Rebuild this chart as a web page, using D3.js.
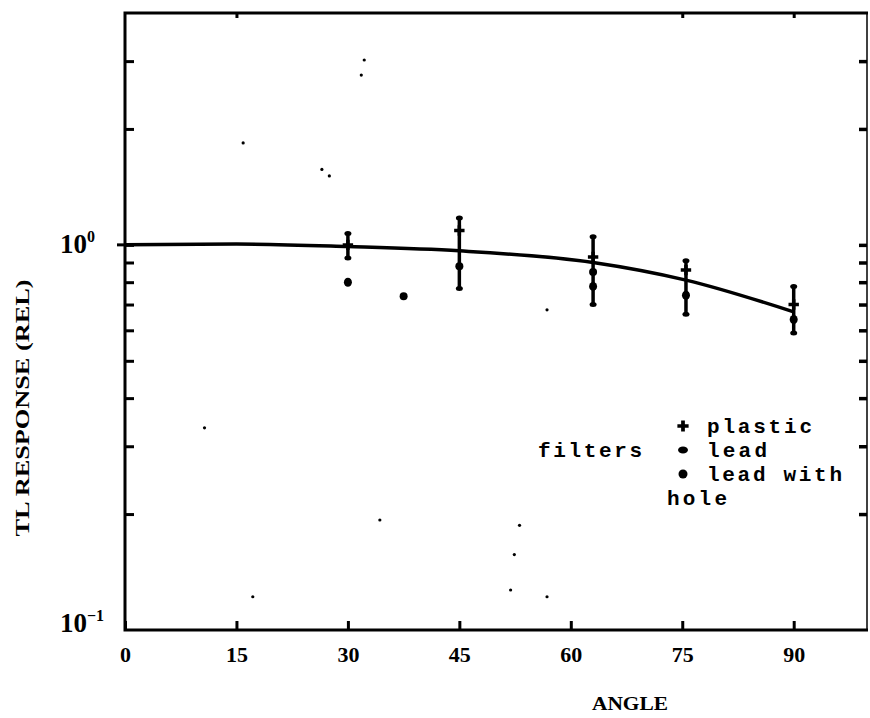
<!DOCTYPE html>
<html>
<head>
<meta charset="utf-8">
<script src="https://cdn.jsdelivr.net/npm/d3@7"></script>
<style>
  body { margin: 0; background: #fff; }
  svg { display: block; }
  .tick text { font-family: "Liberation Serif", serif; font-weight: bold; font-size: 22px; fill: #000; }
  .lbl { font-family: "Liberation Serif", serif; font-weight: bold; fill: #000; }
  .leg { font-family: "Liberation Mono", monospace; font-weight: bold; font-size: 21px; fill: #000; }
</style>
</head>
<body>
<div id="chart"></div>
<script>
// angle ticks and y ticks
var angleTicks = [0, 15, 30, 45, 60, 75, 90];
var topTicks = [15, 75, 90];
var respTicks = [0.2, 0.3, 0.4, 0.5, 0.6, 0.7, 0.8, 0.9, 1, 2, 3];

// fitted curve
var curveAngles = [0, 15, 30, 45, 63, 75.5, 90];
var curveValues = [1.0, 1.005, 0.99, 0.965, 0.9, 0.81, 0.67];

// error bars
var barAngles = [30, 45, 63, 75.5, 90];
var barHigh = [1.07, 1.175, 1.05, 0.91, 0.78];
var barLow = [0.925, 0.77, 0.70, 0.66, 0.59];

// filter points
var plasticAngles = [30, 45, 63, 75.5, 90];
var plasticValues = [1.0, 1.09, 0.93, 0.86, 0.70];
var leadAngles = [30, 63, 75.5, 90];
var leadValues = [0.80, 0.78, 0.74, 0.64];
var holeAngles = [37.5, 45, 63];
var holeValues = [0.735, 0.88, 0.85];

// specks from the scan
var speckAngles = [32.2, 31.8, 15.9, 26.5, 27.5, 56.8, 53.1, 52.4, 51.9, 56.8, 17.2, 34.3, 10.7];
var speckValues = [3.02, 2.76, 1.84, 1.57, 1.51, 0.678, 0.187, 0.157, 0.127, 0.122, 0.122, 0.193, 0.335];

var legendNames = ["plastic", "lead", "lead with", "hole"];

var W = 870, H = 718;
var margin = {top: 13, right: 2, bottom: 88, left: 125};

var x = d3.scaleLinear()
    .domain([0, 100])
    .range([margin.left, W - margin.right]);

var y = d3.scaleLog()
    .domain([0.1, 4])
    .range([H - margin.bottom, margin.top]);

var svg = d3.select("#chart").append("svg")
    .attr("width", W)
    .attr("height", H);

// frame
svg.append("path")
    .attr("d", "M" + x(100) + "," + y(4) + "H" + x(0) + "V" + y(0.1) + "H" + x(100))
    .attr("fill", "none")
    .attr("stroke", "#000")
    .attr("stroke-width", 3);
svg.append("line")
    .attr("x1", x(100) - 1).attr("x2", x(100) - 1)
    .attr("y1", y(4)).attr("y2", y(0.1))
    .attr("stroke", "#000")
    .attr("stroke-width", 1.5);

// bottom axis
var xAxis = svg.append("g")
    .attr("transform", "translate(0," + y(0.1) + ")")
    .call(d3.axisBottom(x).tickValues(angleTicks).tickSize(-9).tickPadding(16).tickFormat(d3.format("d")));
xAxis.select(".domain").remove();
xAxis.selectAll(".tick line").attr("stroke-width", 3);

// top ticks
var xTop = svg.append("g")
    .attr("transform", "translate(0," + y(4) + ")")
    .call(d3.axisTop(x).tickValues(topTicks).tickSize(-5).tickFormat(""));
xTop.select(".domain").remove();
xTop.selectAll(".tick line").attr("stroke-width", 3);

// left axis
var yAxis = svg.append("g")
    .attr("transform", "translate(" + x(0) + ",0)")
    .call(d3.axisLeft(y).tickValues(respTicks).tickSize(-9).tickFormat(""));
yAxis.select(".domain").remove();
yAxis.selectAll(".tick line").attr("stroke-width", 3);

// right axis
var yRight = svg.append("g")
    .attr("transform", "translate(" + (x(100) - 1) + ",0)")
    .call(d3.axisRight(y).tickValues(respTicks).tickSize(-8).tickFormat(""));
yRight.select(".domain").remove();
yRight.selectAll(".tick line").attr("stroke-width", 3.5);

// outward stub at 10^0
svg.append("line")
    .attr("x1", x(0) - 8).attr("x2", x(0))
    .attr("y1", y(1)).attr("y2", y(1))
    .attr("stroke", "#000").attr("stroke-width", 3);

// decade labels
var dec = [{v: 1, e: "0", dy: 8, x: 60}, {v: 0.1, e: "\u22121", dy: 2, x: 60}];
var decG = svg.selectAll(".dec").data(dec).enter().append("text")
    .attr("class", "lbl")
    .attr("x", function(d) { return d.x; })
    .attr("y", function(d) { return y(d.v) + d.dy; })
    .style("font-size", "27px");
decG.append("tspan")
    .text("10");
decG.append("tspan")
    .attr("dy", -11)
    .style("font-size", "16px")
    .text(function(d) { return d.e; });

// axis titles
svg.append("text")
    .attr("class", "lbl")
    .attr("transform", "translate(29,408) rotate(-90)")
    .attr("text-anchor", "middle")
    .attr("textLength", 257)
    .attr("lengthAdjust", "spacingAndGlyphs")
    .style("font-size", "18px")
    .text("TL RESPONSE (REL)");

svg.append("text")
    .attr("class", "lbl")
    .attr("x", 630)
    .attr("y", 710)
    .attr("text-anchor", "middle")
    .attr("textLength", 76)
    .attr("lengthAdjust", "spacingAndGlyphs")
    .style("font-size", "18px")
    .text("ANGLE");

// curve
var line = d3.line()
    .x(function(d) { return x(d[0]); })
    .y(function(d) { return y(d[1]); })
    .curve(d3.curveMonotoneX);

svg.append("path")
    .datum(d3.zip(curveAngles, curveValues))
    .attr("fill", "none")
    .attr("stroke", "#000")
    .attr("stroke-width", 3.5)
    .attr("d", line);

// error bars
var bars = d3.zip(barAngles, barLow, barHigh);
svg.selectAll(".bar")
    .data(bars)
  .enter().append("line")
    .attr("x1", function(d) { return x(d[0]); })
    .attr("x2", function(d) { return x(d[0]); })
    .attr("y1", function(d) { return y(d[1]); })
    .attr("y2", function(d) { return y(d[2]); })
    .attr("stroke", "#000")
    .attr("stroke-width", 3.5);

svg.selectAll(".cap")
    .data(bars.map(function(d) { return [d[0], d[1]]; }).concat(bars.map(function(d) { return [d[0], d[2]]; })))
  .enter().append("ellipse")
    .attr("cx", function(d) { return x(d[0]); })
    .attr("cy", function(d) { return y(d[1]); })
    .attr("rx", 3.5)
    .attr("ry", 2.5);

// plastic (+)
var plus = d3.symbol().type(d3.symbolCross).size(60);
svg.selectAll(".plastic")
    .data(d3.zip(plasticAngles, plasticValues))
  .enter().append("path")
    .attr("transform", function(d) { return "translate(" + x(d[0]) + "," + y(d[1]) + ")"; })
    .attr("d", plus);

// lead (small blob)
svg.selectAll(".lead")
    .data(d3.zip(leadAngles, leadValues))
  .enter().append("ellipse")
    .attr("cx", function(d) { return x(d[0]); })
    .attr("cy", function(d) { return y(d[1]); })
    .attr("rx", 4)
    .attr("ry", 4.5);

// lead with hole (dot)
svg.selectAll(".hole")
    .data(d3.zip(holeAngles, holeValues))
  .enter().append("circle")
    .attr("cx", function(d) { return x(d[0]); })
    .attr("cy", function(d) { return y(d[1]); })
    .attr("r", 4);

// specks
svg.selectAll(".speck")
    .data(d3.zip(speckAngles, speckValues))
  .enter().append("circle")
    .attr("cx", function(d) { return x(d[0]); })
    .attr("cy", function(d) { return y(d[1]); })
    .attr("r", 1.6);

// legend
var legX = 683, legY = 426, legStep = 24;
svg.append("text")
    .attr("class", "leg")
    .attr("x", 538)
    .attr("y", legY + legStep + 7)
    .attr("textLength", 104)
    .text("filters");

svg.selectAll(".legtext")
    .data(legendNames)
  .enter().append("text")
    .attr("class", "leg")
    .attr("x", function(d, i) { return i === 3 ? legX - 16 : legX + 24; })
    .attr("y", function(d, i) { return legY + i * legStep + 7; })
    .attr("textLength", function(d) { return d.length * 15; })
    .text(function(d) { return d; });

svg.append("path")
    .attr("transform", "translate(" + legX + "," + legY + ")")
    .attr("d", d3.symbol().type(d3.symbolCross).size(70));
svg.append("ellipse")
    .attr("cx", legX).attr("cy", legY + legStep)
    .attr("rx", 5).attr("ry", 3.5);
svg.append("circle")
    .attr("cx", legX).attr("cy", legY + 2 * legStep)
    .attr("r", 4.5);
</script>
</body>
</html>
